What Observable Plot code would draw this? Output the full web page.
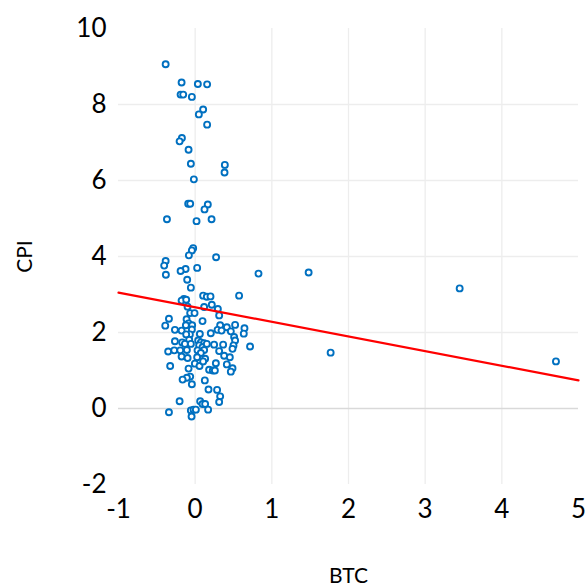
<!DOCTYPE html>
<html>
<head>
<meta charset="utf-8">
<script src="https://cdn.jsdelivr.net/npm/d3@7"></script>
<script src="https://cdn.jsdelivr.net/npm/@observablehq/plot@0.6"></script>
<style>
  html, body { margin: 0; padding: 0; background: #ffffff; }
  #chart svg { display: block; }
</style>
</head>
<body>
<div id="chart"></div>
<script>
// BTC (x) values
const btc = [
  -0.385, -0.177, 0.035, 0.156, -0.19, -0.156, -0.043, 0.104, 0.048, 0.156,
  -0.173, -0.203, -0.086, -0.056, 0.387, 0.383, -0.017, -0.091, -0.065, 0.165,
  0.122, -0.368, 0.018, 0.214, -0.026, -0.043, -0.082, 0.273, -0.385, -0.404,
  -0.125, -0.19, 0.026, -0.382, -0.104, 0.826, -0.056, 0.104, 0.152, 0.20,
  0.573, -0.147, -0.177, -0.117, 0.117, 0.217, 0.296, -0.099, -0.065, -0.008,
  0.313, -0.342, -0.39, -0.112, -0.086, -0.121, -0.039, 0.096, 0.326, 0.413,
  0.521, 0.643, -0.264, -0.177, 0.292, 0.344, 0.465, 0.634, 0.204, -0.043,
  -0.069, 0.061, -0.117, 0.508, -0.078, 0.039, 0.074, 0.117, 0.052, 0.096,
  0.152, -0.264, -0.169, -0.134, -0.056, 0.247, 0.365, 0.521, 0.50, 0.716,
  -0.352, -0.273, -0.195, -0.108, 0.031, 0.117, 0.313, 0.487, -0.177, -0.099,
  0.074, 0.13, 0.026, 0.378, 0.452, -0.004, 0.057, 0.104, 0.27, 0.413,
  -0.326, -0.086, 0.182, 0.23, 0.257, 0.487, 0.465, -0.065, -0.108, -0.164,
  -0.043, 0.126, 0.174, 0.286, 0.326, -0.203, 0.313, 0.065, 0.096, 0.13,
  0.169, -0.342, -0.056, -0.021, 0.009, -0.047, 1.48, 1.767, 3.45, 4.706
];
// CPI (y) values
const cpi = [
  9.06, 8.58, 8.54, 8.53, 8.26, 8.26, 8.20, 7.87, 7.74, 7.47,
  7.12, 7.03, 6.81, 6.44, 6.41, 6.21, 6.03, 5.39, 5.39, 5.37,
  5.24, 4.98, 4.93, 4.98, 4.22, 4.16, 4.03, 3.98, 3.88, 3.76,
  3.67, 3.62, 3.70, 3.52, 3.39, 3.55, 3.18, 2.97, 2.94, 2.95,
  2.97, 2.88, 2.84, 2.86, 2.67, 2.73, 2.62, 2.68, 2.51, 2.51,
  2.45, 2.36, 2.18, 2.35, 2.24, 2.19, 2.19, 2.30, 2.19, 2.14,
  2.20, 2.11, 2.07, 2.05, 2.07, 2.05, 2.03, 1.97, 1.98, 2.08,
  1.95, 1.96, 1.95, 1.88, 1.81, 1.79, 1.74, 1.72, 1.66, 1.61,
  1.70, 1.77, 1.74, 1.70, 1.70, 1.68, 1.68, 1.79, 1.66, 1.63,
  1.50, 1.53, 1.53, 1.54, 1.53, 1.54, 1.51, 1.57, 1.37, 1.33,
  1.46, 1.31, 1.35, 1.39, 1.35, 1.18, 1.12, 1.24, 1.19, 1.16,
  1.12, 1.05, 1.02, 1.00, 1.00, 1.06, 0.97, 0.84, 0.81, 0.76,
  0.64, 0.74, 0.50, 0.49, 0.32, 0.19, 0.17, 0.19, 0.12, 0.12,
  -0.03, -0.10, -0.05, -0.03, -0.03, -0.21, 3.58, 1.47, 3.16, 1.24
];
// Linear trendline endpoints
const trendX = [-1, 5];
const trendY = [3.05, 0.74];

// Axis ticks
const xTicks = [-1, 0, 1, 2, 3, 4, 5];
const yTicks = [-2, 0, 2, 4, 6, 8, 10];
const xGrid = [0, 1, 2, 3, 4];
const yGrid = [2, 4, 6, 8];

const points = btc.map((x, i) => ({x, y: cpi[i]}));
const trend = trendX.map((x, i) => ({x, y: trendY[i]}));

const chart = Plot.plot({
  width: 587,
  height: 586,
  marginLeft: 118,
  marginRight: 9,
  marginTop: 28,
  marginBottom: 102,
  style: {fontFamily: "Lato, 'Open Sans', sans-serif", background: "#ffffff", color: "#000000"},
  x: {domain: [-1, 5]},
  y: {domain: [-2, 10]},
  marks: [
    Plot.gridX(xGrid, {stroke: "#ededed", strokeOpacity: 1, strokeWidth: 1.3}),
    Plot.gridY(yGrid, {stroke: "#ededed", strokeOpacity: 1, strokeWidth: 1.3}),
    Plot.ruleY([0], {stroke: "#d9d9d9", strokeWidth: 1.5}),
    Plot.axisX(xTicks, {tickSize: 0, tickPadding: 15, fontSize: 26, tickFormat: d => String(d), label: null}),
    Plot.axisY(yTicks, {tickSize: 0, tickPadding: 12, fontSize: 26, tickFormat: d => String(d), label: null}),
    Plot.dot(points, {x: "x", y: "y", r: 3, stroke: "#0070c0", strokeWidth: 1.9, fill: "#ffffff"}),
    Plot.line(trend, {x: "x", y: "y", stroke: "#ff0000", strokeWidth: 2.2}),
    Plot.text(["BTC"], {frameAnchor: "bottom", dy: 92, lineAnchor: "middle", fontSize: 21, fill: "#000000"}),
    Plot.text(["CPI"], {frameAnchor: "left", dx: -93, rotate: -90, lineAnchor: "middle", textAnchor: "middle", fontSize: 21, fill: "#000000"})
  ]
});
document.getElementById("chart").appendChild(chart);
</script>
</body>
</html>
